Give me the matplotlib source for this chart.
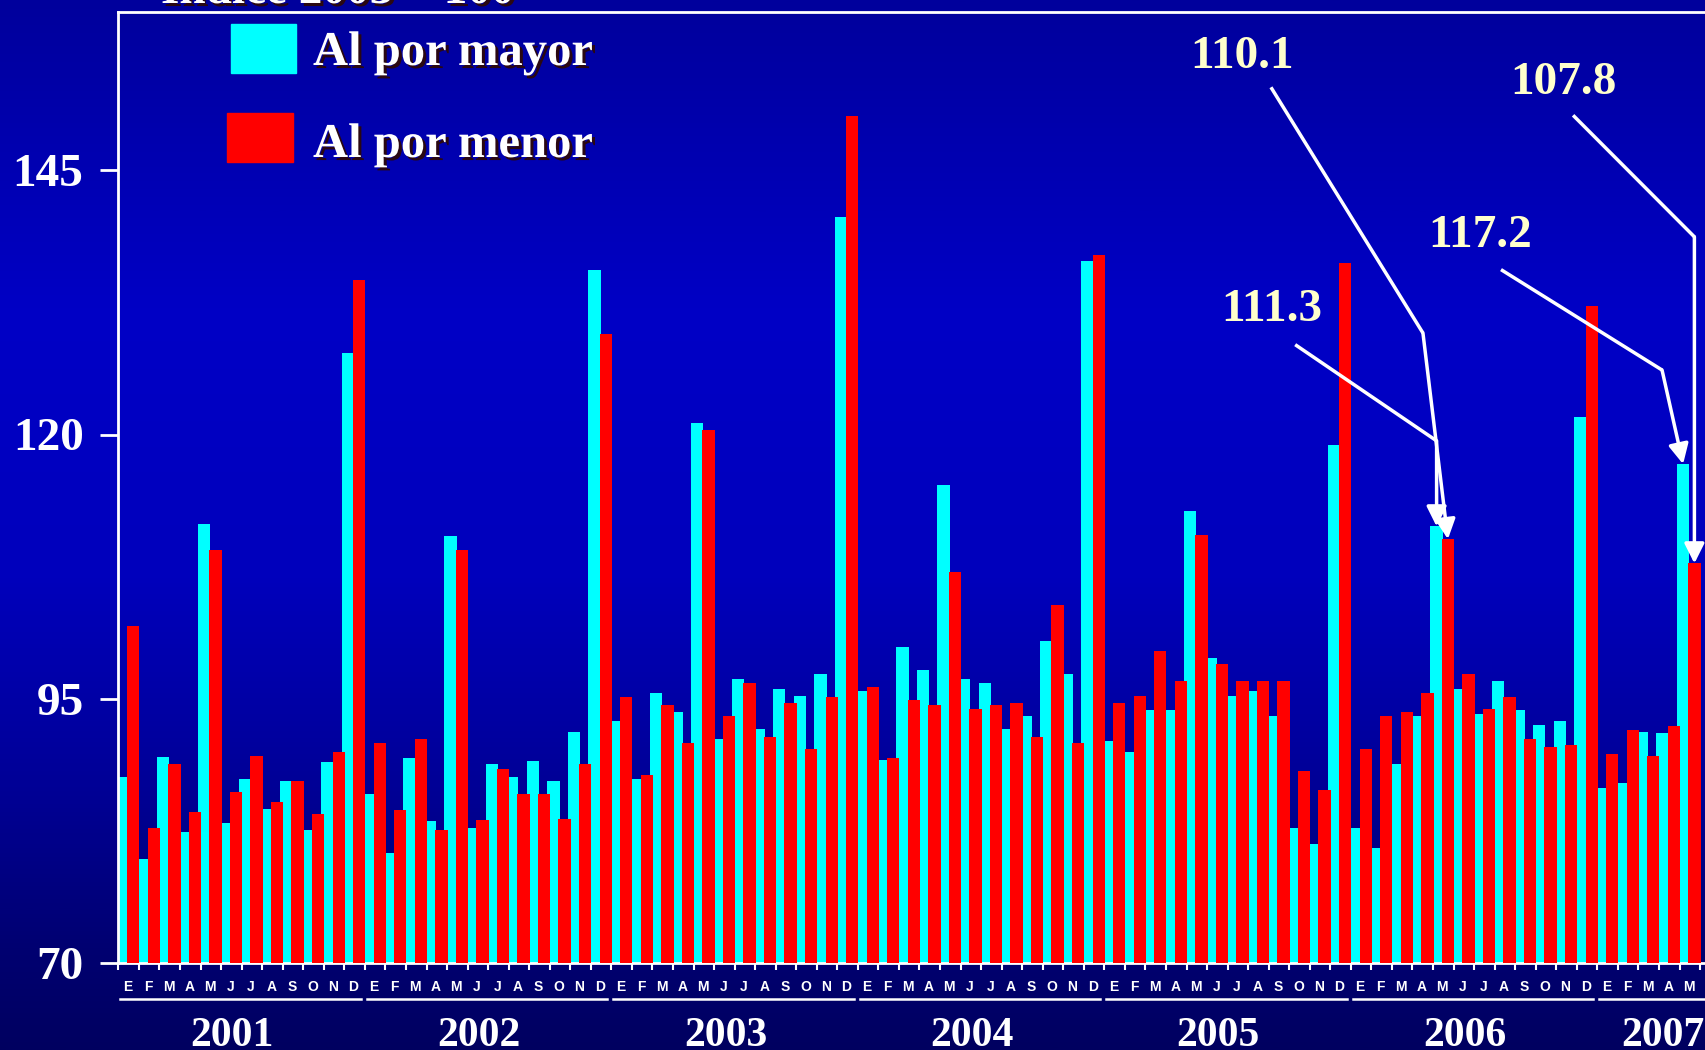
import numpy as np
import matplotlib.pyplot as plt
import matplotlib.patheffects as pe
import matplotlib.transforms as mtransforms
from matplotlib.colors import LinearSegmentedColormap
from matplotlib.patches import Rectangle

# Índice 2003 = 100, ventas mensuales
month_letters = ['E', 'F', 'M', 'A', 'M', 'J', 'J', 'A', 'S', 'O', 'N', 'D']
years = ['2001', '2002', '2003', '2004', '2005', '2006', '2007']
months_in_year = [12, 12, 12, 12, 12, 12, 5]

al_por_mayor = [
    87.6, 79.8, 89.5, 82.4, 111.5, 83.2, 87.4, 84.6, 87.2, 82.6, 89.0, 127.7,
    86.0, 80.4, 89.4, 83.4, 110.4, 82.8, 88.8, 87.6, 89.1, 87.2, 91.9, 135.6,
    92.9, 87.4, 95.5, 93.7, 121.1, 91.2, 96.9, 92.1, 95.9, 95.3, 97.3, 140.6,
    95.7, 89.2, 99.9, 97.7, 115.2, 96.9, 96.5, 92.1, 93.4, 100.5, 97.3, 136.4,
    91.0, 90.0, 93.9, 93.9, 112.8, 98.9, 95.3, 95.7, 93.4, 82.8, 81.3, 119.0,
    82.8, 80.9, 88.8, 93.4, 111.3, 95.9, 93.6, 96.7, 93.9, 92.5, 92.9, 121.7,
    86.6, 87.0, 91.9, 91.8, 117.2,
]
al_por_menor = [
    101.9, 82.8, 88.8, 84.3, 109.1, 86.2, 89.6, 85.2, 87.2, 84.1, 90.0, 134.6,
    90.8, 84.5, 91.2, 82.6, 109.1, 83.5, 88.4, 86.0, 86.0, 83.6, 88.8, 129.5,
    95.2, 87.8, 94.4, 90.8, 120.4, 93.4, 96.5, 91.4, 94.6, 90.2, 95.2, 150.1,
    96.1, 89.4, 94.9, 94.4, 107.0, 94.0, 94.4, 94.6, 91.4, 103.9, 90.8, 137.0,
    94.6, 95.3, 99.5, 96.7, 110.5, 98.3, 96.7, 96.7, 96.7, 88.2, 86.4, 136.2,
    90.2, 93.4, 93.7, 95.5, 110.1, 97.3, 94.0, 95.2, 91.2, 90.4, 90.6, 132.2,
    89.8, 92.0, 89.6, 92.4, 107.8,
]

# callouts: series, month index, label position, line start, bend
callouts = [
    ('mayor', 64, (55.7, 131.8), (56.84, 128.5), (63.725, 119.4)),
    ('menor', 64, (54.26, 155.7), (55.66, 152.85), (63.06, 129.6)),
    ('mayor', 76, (65.85, 138.8), (66.86, 135.6), (74.7, 126.1)),
    ('menor', 76, (69.9, 153.3), (70.37, 150.2), (76.275, 138.7)),
]

CYAN = '#00FFFF'
RED = '#FF0000'
SERIF = 'Liberation Serif'
SHADOW = [pe.SimplePatchShadow(offset=(2.2, -2.2), shadow_rgbFace='#2a0812', alpha=1.0), pe.Normal()]

fig = plt.figure(figsize=(17.06, 10.5), dpi=100)

# blue gradient behind everything
bg = fig.add_axes([0, 0, 1, 1], zorder=-10)
grad_cmap = LinearSegmentedColormap.from_list('slide', [
    (0.0, '#00009c'), (0.3, '#0000c6'), (0.55, '#0000bc'),
    (0.75, '#000096'), (0.9, '#000072'), (1.0, '#000060')])
bg.imshow(np.linspace(0, 1, 512).reshape(-1, 1), cmap=grad_cmap, aspect='auto',
          extent=[0, 1, 1, 0])
bg.set_xlim(0, 1)
bg.set_ylim(1, 0)
bg.axis('off')

ax = fig.add_axes([118.3 / 1706, 87 / 1050, 1 - 118.3 / 1706, (963 - 11.7) / 1050])
ax.set_facecolor('none')

n = len(al_por_mayor)
x = np.arange(n)
offset = 0.275
ax.bar(x - offset, al_por_mayor, width=0.6, color=CYAN, zorder=2)
ax.bar(x + offset, al_por_menor, width=0.6, color=RED, zorder=3)

x_right = 76.84
ax.set_ylim(70, 160)
ax.set_xlim(-0.455, x_right)
ax.set_yticks([70, 95, 120, 145])
ax.set_yticklabels(['70', '95', '120', '145'], fontfamily=SERIF, fontweight='bold',
                   fontsize=34, color='white')
ax.tick_params(axis='y', direction='out', length=13, width=2, colors='white', pad=12)
ax.set_xticks(np.arange(-0.45, n, 1))
ax.set_xticklabels([])
ax.tick_params(axis='x', direction='out', length=5, width=1.5, colors='white')

for side in ['left', 'top', 'bottom']:
    ax.spines[side].set_color('white')
    ax.spines[side].set_linewidth(2)
ax.spines['right'].set_visible(False)

# month letters, year underline and year label
trans = mtransforms.blended_transform_factory(ax.transData, ax.transAxes)
start = 0
for year, count in zip(years, months_in_year):
    for k in range(count):
        ax.text(start + k, -0.025, month_letters[k], transform=trans, ha='center',
                va='center', color='white', fontsize=10, fontweight='bold',
                fontfamily='Liberation Sans', clip_on=False)
    line_end = min(start + count - 1 + 0.35, x_right)
    if count < 12:
        line_end = x_right
    ax.plot([start - 0.35, line_end], [-0.038, -0.038], transform=trans,
            color='white', lw=1.8, clip_on=False)
    center = start + (count - 1) / 2 - 0.4 if count == 12 else start + (count - 1) / 2 + 0.75
    ax.text(center, -0.0873, year, transform=trans, ha='center',
            va='baseline', color='white', fontsize=30, fontweight='bold',
            fontfamily=SERIF, clip_on=False)
    start += count

# callout labels with arrows
series = {'mayor': (al_por_mayor, -offset), 'menor': (al_por_menor, offset)}
for name, idx, text_pos, line_start, bend in callouts:
    values, dx = series[name]
    val = values[idx]
    ax.text(text_pos[0], text_pos[1], f'{val:.1f}', ha='center', va='center',
            color='#ffffcc', fontsize=34, fontweight='bold', fontfamily=SERIF, zorder=6)
    ax.plot([line_start[0], bend[0]], [line_start[1], bend[1]], color='white', lw=2.5,
            zorder=6, solid_capstyle='butt')
    ax.annotate('', xy=(idx + dx, val), xytext=bend,
                arrowprops=dict(arrowstyle='-|>,head_length=0.6,head_width=0.3',
                                color='white', lw=2.5, mutation_scale=20,
                                shrinkA=0, shrinkB=0), zorder=6)

# legend
fig.patches.append(Rectangle((231 / 1706, 1 - 73 / 1050), 65 / 1706, 49 / 1050,
                             transform=fig.transFigure, color=CYAN, zorder=5))
fig.patches.append(Rectangle((227 / 1706, 1 - 162 / 1050), 66 / 1706, 49 / 1050,
                             transform=fig.transFigure, color=RED, zorder=5))
fig.text(313 / 1706, 1 - 65 / 1050, 'Al por mayor', ha='left', va='baseline',
         color='white', fontsize=35, fontweight='bold', fontfamily=SERIF,
         path_effects=SHADOW)
fig.text(313 / 1706, 1 - 157 / 1050, 'Al por menor', ha='left', va='baseline',
         color='white', fontsize=35, fontweight='bold', fontfamily=SERIF,
         path_effects=SHADOW)

# heading, mostly above the top edge
fig.text(161 / 1706, 1 - 3 / 1050, 'Índice 2003 = 100', ha='left', va='baseline',
         color='white', fontsize=34, fontweight='bold', fontfamily=SERIF,
         path_effects=SHADOW)

fig.savefig('out.png', dpi=100)
